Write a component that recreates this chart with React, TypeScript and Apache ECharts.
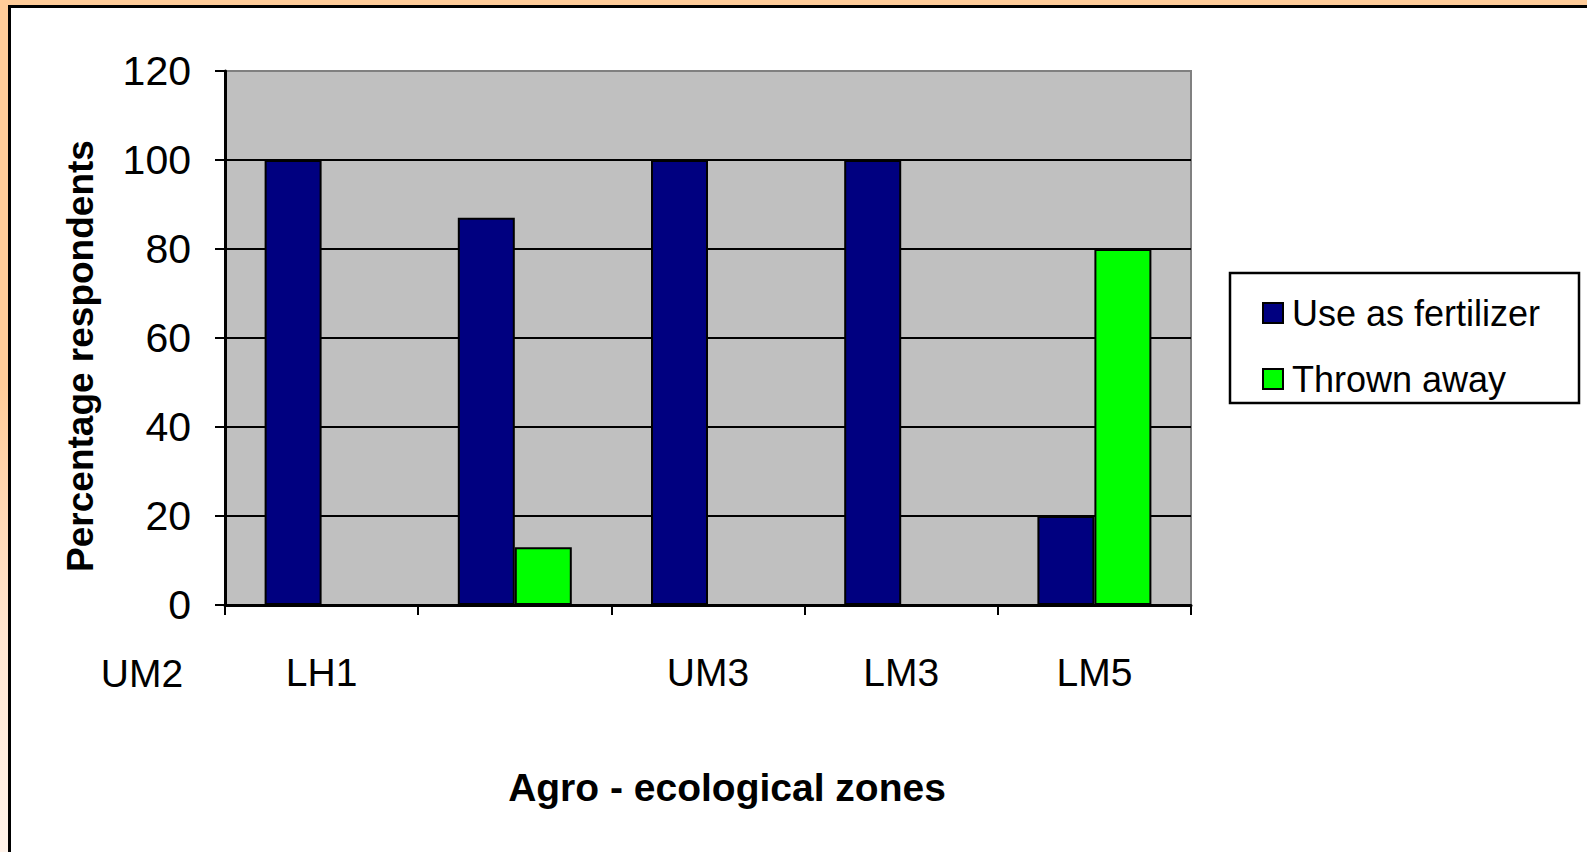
import React, { useEffect, useRef } from "react";
import * as echarts from "echarts";

const categories = ["LH1", "", "UM3", "LM3", "LM5"];
const extraLabel = "UM2";
const useAsFertilizer = [100, 87, 100, 100, 20];
const thrownAway = [0, 13, 0, 0, 80];
const seriesNames = ["Use as fertilizer", "Thrown away"];
const yTitle = "Percentage respondents";
const xTitle = "Agro - ecological zones";

const FONT = "'Liberation Sans', Arial, sans-serif";

export default function App() {
  const ref = useRef<HTMLDivElement>(null);
  useEffect(() => {
    if (!ref.current) return;
    const chart = echarts.init(ref.current, undefined, { renderer: "svg" });
    chart.setOption({
      animation: false,
      backgroundColor: "transparent",
      textStyle: { fontFamily: FONT },
      grid: {
        left: 225,
        right: 396,
        top: 71,
        bottom: 247,
        show: true,
        backgroundColor: "#C0C0C0",
        borderColor: "#808080",
        borderWidth: 2,
      },
      legend: {
        data: seriesNames,
        orient: "vertical",
        left: 1262,
        top: 295,
        itemWidth: 20,
        itemHeight: 20,
        itemGap: 30,
        icon: "rect",
        padding: 0,
        textStyle: {
          fontFamily: FONT,
          fontSize: 36,
          color: "#000",
          lineHeight: 34,
          padding: [0, 0, 0, 4],
        },
      },
      xAxis: {
        type: "category",
        data: categories,
        axisLine: { lineStyle: { color: "#000", width: 3 } },
        axisTick: { show: true, length: 10, lineStyle: { color: "#000", width: 2 } },
        axisLabel: {
          margin: 48,
          fontSize: 39,
          color: "#000",
          fontFamily: FONT,
          interval: 0,
        },
        splitLine: { show: false },
      },
      yAxis: {
        type: "value",
        min: 0,
        max: 120,
        interval: 20,
        axisLine: { show: true, lineStyle: { color: "#000", width: 3 } },
        axisTick: { show: true, length: 10, lineStyle: { color: "#000", width: 2 } },
        axisLabel: { margin: 34, fontSize: 41, color: "#000", fontFamily: FONT },
        splitLine: {
          show: true,
          showMaxLine: false,
          lineStyle: { color: "#000", width: 2 },
        },
      },
      series: [
        {
          name: seriesNames[0],
          type: "bar",
          data: useAsFertilizer,
          barGap: "0%",
          barCategoryGap: "41%",
          itemStyle: { color: "#000080", borderColor: "#000", borderWidth: 2 },
        },
        {
          name: seriesNames[1],
          type: "bar",
          data: thrownAway,
          barGap: "0%",
          barCategoryGap: "41%",
          itemStyle: { color: "#00FF00", borderColor: "#000", borderWidth: 2 },
        },
      ],
      graphic: [
        {
          type: "rect",
          shape: { x: 1230, y: 273, width: 349, height: 130 },
          style: { fill: "#fff", stroke: "#000", lineWidth: 2.5 },
          z: -1,
        },
        {
          type: "text",
          x: 142,
          y: 673,
          style: {
            text: extraLabel,
            fontSize: 39,
            fontFamily: FONT,
            fill: "#000",
            align: "center",
            verticalAlign: "middle",
          },
        },
        {
          type: "text",
          x: 80,
          y: 356,
          rotation: Math.PI / 2,
          style: {
            text: yTitle,
            fontSize: 37,
            fontWeight: "bold",
            fontFamily: FONT,
            fill: "#000",
            align: "center",
            verticalAlign: "middle",
          },
        },
        {
          type: "text",
          x: 727,
          y: 787,
          style: {
            text: xTitle,
            fontSize: 39,
            fontWeight: "bold",
            fontFamily: FONT,
            fill: "#000",
            align: "center",
            verticalAlign: "middle",
          },
        },
      ],
    });
    return () => chart.dispose();
  }, []);

  return (
    <div
      style={{
        position: "fixed",
        left: 0,
        top: 0,
        width: 1587,
        height: 852,
        overflow: "hidden",
        background: "linear-gradient(to bottom, #FFCC99 0%, #FFCC99 45%, #FFE6D1 75%, #FFF3EA 100%)",
      }}
    >
      <div
        style={{
          position: "absolute",
          left: 8,
          top: 5,
          width: 1700,
          height: 1000,
          background: "#fff",
          border: "3px solid #000",
          boxSizing: "border-box",
        }}
      />
      <div
        ref={ref}
        style={{ position: "absolute", left: 0, top: 0, width: 1587, height: 852 }}
      />
    </div>
  );
}
